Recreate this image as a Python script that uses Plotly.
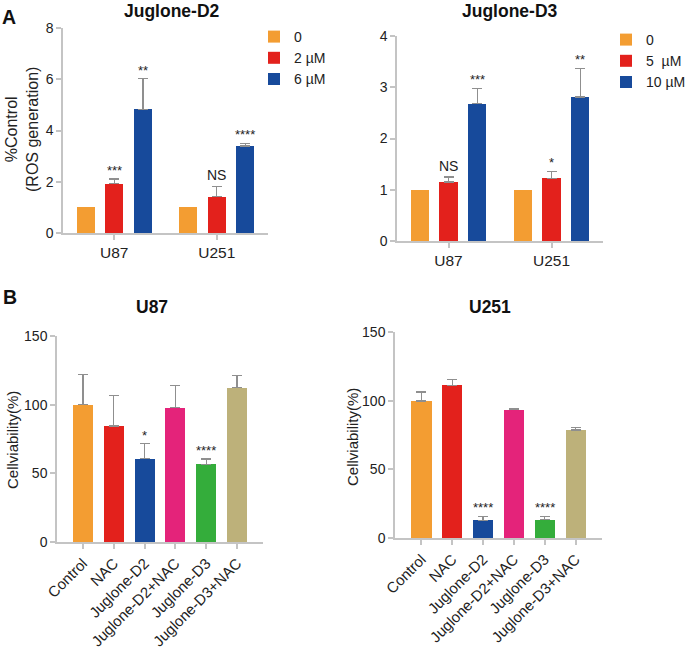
import plotly.graph_objects as go

# ROS generation data (panel A)
cells = ['U87', 'U251']

d2_doses = ['0', '2 µM', '6 µM']
d2_mean = [[1.0, 1.0], [1.92, 1.42], [4.83, 3.40]]
d2_err = [[0, 0], [0.19, 0.40], [1.19, 0.10]]
d2_sig = [['', ''], ['***', 'NS'], ['**', '****']]

d3_doses = ['0', '5  µM', '10 µM']
d3_mean = [[1.0, 1.0], [1.15, 1.22], [2.68, 2.81]]
d3_err = [[0, 0], [0.10, 0.14], [0.30, 0.56]]
d3_sig = [['', ''], ['NS', '*'], ['***', '**']]

# cell viability data (panel B)
groups = ['Control', 'NAC', 'Juglone-D2', 'Juglone-D2+NAC', 'Juglone-D3', 'Juglone-D3+NAC']
u87_mean = [100, 84.4, 60.8, 97.7, 56.6, 112.3]
u87_err = [22, 22.3, 10.9, 16.3, 3.9, 8.7]
u87_sig = ['', '', '*', '', '****', '']
u251_mean = [99.8, 111.3, 12.9, 93.5, 13.4, 78.6]
u251_err = [6.6, 3.9, 2.9, 1.0, 2.4, 2.0]
u251_sig = ['', '', '****', '', '****', '']

dose_colors = ['#F39D32', '#E3211C', '#174A9B']
group_colors = ['#F39D32', '#E3211C', '#174A9B', '#E4237A', '#34AD3B', '#BDB17A']

W, H = 685, 651
FONT = 'Liberation Sans, Arial, sans-serif'
AXC = '#c4c4c4'
ERRC = '#8f8f8f'


def px(x):
    return x / W


def py(y):
    return 1 - y / H


fig = go.Figure()
annotations = []

bw = 0.175
step = 0.28


def add_grouped(doses, means, errs, sigs, xa, ya, legend):
    for i, dose in enumerate(doses):
        off = (i - 1) * step - bw / 2
        fig.add_trace(go.Bar(
            x=cells, y=means[i], name=dose, width=bw, offset=off,
            marker=dict(color=dose_colors[i], line=dict(width=0)),
            error_y=dict(type='data', array=errs[i], arrayminus=[0] * len(cells),
                         symmetric=False, visible=i > 0, color=ERRC,
                         thickness=1.3, width=5),
            xaxis=xa, yaxis=ya, legend=legend,
        ))
        for j, s in enumerate(sigs[i]):
            if not s:
                continue
            annotations.append(dict(
                x=j + (i - 1) * step, y=means[i][j] + errs[i][j],
                xref=xa, yref=ya, text=s, showarrow=False,
                yanchor='bottom', yshift=1 if s == 'NS' else -1,
                font=dict(size=14 if s == 'NS' else 13, color='#222', family=FONT),
            ))


def add_viability(means, errs, sigs, xa, ya):
    fig.add_trace(go.Bar(
        x=groups, y=means, width=0.65, showlegend=False,
        marker=dict(color=group_colors, line=dict(width=0)),
        error_y=dict(type='data', array=errs, arrayminus=[0] * len(groups),
                     symmetric=False, color=ERRC, thickness=1.3, width=5),
        xaxis=xa, yaxis=ya, legend='legend3',
    ))
    for j, s in enumerate(sigs):
        if s:
            annotations.append(dict(
                x=j, y=means[j] + errs[j], xref=xa, yref=ya, text=s,
                showarrow=False, yanchor='bottom', yshift=-1,
                font=dict(size=13, color='#222', family=FONT),
            ))


add_grouped(d2_doses, d2_mean, d2_err, d2_sig, 'x', 'y', 'legend')
add_grouped(d3_doses, d3_mean, d3_err, d3_sig, 'x2', 'y2', 'legend2')
add_viability(u87_mean, u87_err, u87_sig, 'x3', 'y3')
add_viability(u251_mean, u251_err, u251_sig, 'x4', 'y4')

ax = dict(showgrid=False, zeroline=False, showline=True, linecolor=AXC,
          linewidth=1.5, ticks='outside', tickcolor=AXC, ticklen=5, tickwidth=1.5,
          automargin=False)

# titles and panel letters
for txt, x, y, size in [('Juglone-D2', 172, 11, 17.5), ('Juglone-D3', 510, 11, 17.5),
                        ('U87', 152, 307, 17.5), ('U251', 490, 307, 17.5),
                        ('A', 9, 17, 19.5), ('B', 10, 297, 19.5)]:
    annotations.append(dict(x=px(x), y=py(y), xref='paper', yref='paper',
                            text='<b>%s</b>' % txt, showarrow=False,
                            xanchor='center', yanchor='middle',
                            font=dict(size=size, family=FONT, color='#111')))

for txt, x, y, size in [('%Control<br>(ROS generation)', 22, 130, 16),
                        ('Cellviability(%)', 12, 440, 15), ('Cellviability(%)', 352, 437, 15)]:
    annotations.append(dict(x=px(x), y=py(y), xref='paper', yref='paper',
                            text=txt, showarrow=False, textangle=-90,
                            xanchor='center', yanchor='middle',
                            font=dict(size=size, family=FONT, color='#222')))

tick_top = dict(family=FONT, color='#222', size=14)
cat_top = dict(family=FONT, color='#222', size=15.5)
tick_bot = dict(family=FONT, color='#222', size=14)
cat_bot = dict(family=FONT, color='#222', size=15)

leg_common = dict(xanchor='left', yanchor='middle', font=dict(size=14, family=FONT),
                  bgcolor='rgba(0,0,0,0)', tracegroupgap=0)

fig.update_layout(
    width=W, height=H,
    margin=dict(l=0, r=0, t=0, b=0, autoexpand=False),
    paper_bgcolor='white', plot_bgcolor='white',
    font=dict(family=FONT, color='#222'),
    xaxis=dict(domain=[px(63), px(268)], anchor='y', type='category',
               range=[-0.5, 1.5], tickfont=cat_top, **ax),
    yaxis=dict(domain=[py(233), py(28)], anchor='x', range=[0, 8],
               tickvals=[0, 2, 4, 6, 8], tickfont=tick_top, **ax),
    xaxis2=dict(domain=[px(397), px(603)], anchor='y2', type='category',
                range=[-0.5, 1.5], tickfont=cat_top, **ax),
    yaxis2=dict(domain=[py(241), py(36)], anchor='x2', range=[0, 4],
                tickvals=[0, 1, 2, 3, 4], tickfont=tick_top, **ax),
    xaxis3=dict(domain=[px(57), px(263)], anchor='y3', type='category',
                range=[-0.84, 5.84], tickangle=-45, tickfont=cat_bot, **ax),
    yaxis3=dict(domain=[py(542), py(336)], anchor='x3', range=[0, 150],
                tickvals=[0, 50, 100, 150], tickfont=tick_bot, **ax),
    xaxis4=dict(domain=[px(395), px(602)], anchor='y4', type='category',
                range=[-0.86, 5.86], tickangle=-45, tickfont=cat_bot, **ax),
    yaxis4=dict(domain=[py(538), py(332)], anchor='x4', range=[0, 150],
                tickvals=[0, 50, 100, 150], tickfont=tick_bot, **ax),
    legend=dict(x=px(254), y=py(58), **leg_common),
    legend2=dict(x=px(606), y=py(61), **leg_common),
    legend3=dict(visible=False),
    annotations=annotations,
    bargap=0,
)

# drop the default 8px page margin so the figure sits flush in the window
fig.write_html('out.html', config={'displayModeBar': False},
               post_script="document.body.style.margin='0';")
